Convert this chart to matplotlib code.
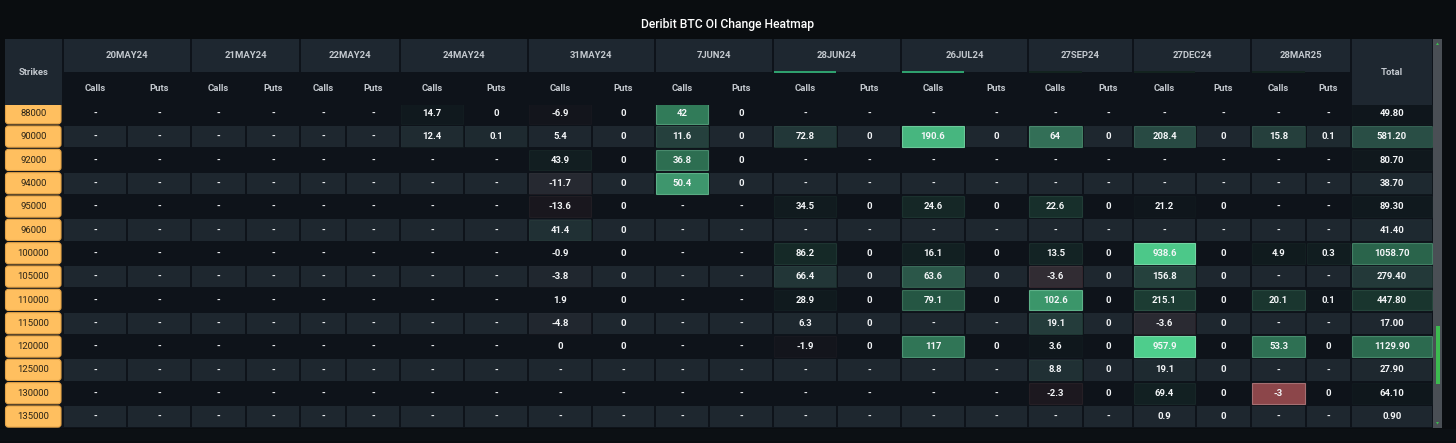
import numpy as np
import matplotlib
matplotlib.use("Agg")
import matplotlib.pyplot as plt
from matplotlib.patches import Rectangle, FancyBboxPatch, Polygon
from matplotlib.colors import Normalize, LinearSegmentedColormap

plt.rcParams['font.family'] = ['Roboto', 'DejaVu Sans']

na = np.nan

strikes = [88000, 90000, 92000, 94000, 95000, 96000, 100000, 105000,
           110000, 115000, 120000, 125000, 130000, 135000]

expiries = ["20MAY24", "21MAY24", "22MAY24", "24MAY24", "31MAY24", "7JUN24",
            "28JUN24", "26JUL24", "27SEP24", "27DEC24", "28MAR25"]

# one list per expiry, one value per strike (nan = "-")
calls = [
    [na, na, na, na, na, na, na, na, na, na, na, na, na, na],
    [na, na, na, na, na, na, na, na, na, na, na, na, na, na],
    [na, na, na, na, na, na, na, na, na, na, na, na, na, na],
    [14.7, 12.4, na, na, na, na, na, na, na, na, na, na, na, na],
    [-6.9, 5.4, 43.9, -11.7, -13.6, 41.4, -0.9, -3.8, 1.9, -4.8, 0, na, na, na],
    [42, 11.6, 36.8, 50.4, na, na, na, na, na, na, na, na, na, na],
    [na, 72.8, na, na, 34.5, na, 86.2, 66.4, 28.9, 6.3, -1.9, na, na, na],
    [na, 190.6, na, na, 24.6, na, 16.1, 63.6, 79.1, na, 117, na, na, na],
    [na, 64, na, na, 22.6, na, 13.5, -3.6, 102.6, 19.1, 3.6, 8.8, -2.3, na],
    [na, 208.4, na, na, 21.2, na, 938.6, 156.8, 215.1, -3.6, 957.9, 19.1, 69.4, 0.9],
    [na, 15.8, na, na, na, na, 4.9, na, 20.1, na, 53.3, na, -3, na],
]
puts = [
    [na, na, na, na, na, na, na, na, na, na, na, na, na, na],
    [na, na, na, na, na, na, na, na, na, na, na, na, na, na],
    [na, na, na, na, na, na, na, na, na, na, na, na, na, na],
    [0, 0.1, na, na, na, na, na, na, na, na, na, na, na, na],
    [0, 0, 0, 0, 0, 0, 0, 0, 0, 0, 0, na, na, na],
    [0, 0, 0, 0, na, na, na, na, na, na, na, na, na, na],
    [na, 0, na, na, 0, na, 0, 0, 0, 0, 0, na, na, na],
    [na, 0, na, na, 0, na, 0, 0, 0, na, 0, na, na, na],
    [na, 0, na, na, 0, na, 0, 0, 0, 0, 0, 0, 0, na],
    [na, 0, na, na, 0, na, 0, 0, 0, 0, 0, 0, 0, 0],
    [na, 0.1, na, na, na, na, 0.3, na, 0.1, na, 0, na, 0, na],
]
totals = [49.80, 581.20, 80.70, 38.70, 89.30, 41.40, 1058.70, 279.40,
          447.80, 17.00, 1129.90, 27.90, 64.10, 0.90]

# colour scale range of each calls column (whole table, incl. rows scrolled away)
calls_vmax = [100, 100, 100, 400, 700, 75, 700, 220, 145, 960, 105]
calls_vmin = [-10, -10, -10, -10, -150, -10, -40, -10, -20, -30, -3]
puts_vmax = 5
totals_vmax = 2400

# layout in pixels
strike_x, strike_w = 5, 58
sub_w = [(64, 64), (55, 54), (46, 54), (64, 64), (64, 63), (54, 64),
         (64, 64), (64, 63), (55, 50), (63, 55), (55, 45)]
total_w = 82
head_top, head_mid, head_bot = 39, 72, 105
row_top, row_h = 101.7, 23.33

page_bg = '#0a0d10'
dark_bg = '#0e131a'
light_bg = '#1e272f'
head_bg = '#1e2730'
head_txt = '#c3c8ce'
val_txt = '#f4f6f8'
green = (78/255, 205/255, 140/255)
red = (140/255, 70/255, 74/255)
green_cmap = LinearSegmentedColormap.from_list('g', [green + (0,), green + (1,)])
red_cmap = LinearSegmentedColormap.from_list('r', [red + (0,), red + (1,)])

fig = plt.figure(figsize=(14.56, 4.43), dpi=100, facecolor=page_bg)
ax = fig.add_axes([0, 0, 1, 1])
ax.set_xlim(0, 1456)
ax.set_ylim(443, 0)
ax.axis('off')

fs = 6.8


def draw_cell(x0, w, row, value, vmin, vmax, label):
    y0 = row_top + row * row_h
    if row % 2:
        ax.add_patch(Rectangle((x0 + 1, y0 + 1), w - 2, row_h - 2, color=light_bg, lw=0, zorder=1))
    if not np.isnan(value) and value != 0:
        if value > 0:
            t = Normalize(0, vmax, clip=True)(value)
            rgba = green_cmap(t)
        else:
            t = Normalize(0, -vmin, clip=True)(-value)
            rgba = red_cmap(t)
        r, g, b, a = rgba
        edge = (r + (1 - r) * 0.22, g + (1 - g) * 0.22, b + (1 - b) * 0.22, a)
        ax.add_patch(Rectangle((x0 + 1.4, y0 + 1.4), w - 2.8, row_h - 2.8, facecolor=rgba,
                               edgecolor=edge, lw=0.8, zorder=2))
    ax.text(x0 + w / 2, y0 + row_h / 2, label, color=val_txt, fontsize=fs,
            fontweight='bold', ha='center', va='center', zorder=3)


def fmt(v):
    return '-' if np.isnan(v) else f"{v:g}"


# data area background
ax.add_patch(Rectangle((strike_x, head_bot), 1433 - strike_x, 428 - head_bot, color=dark_bg, lw=0, zorder=0))
ax.add_patch(Rectangle((0, 429), 1456, 12, color='#0c1014', lw=0, zorder=0))

# strike labels
for i, s in enumerate(strikes):
    y0 = row_top + i * row_h
    ax.add_patch(FancyBboxPatch((strike_x + 0.5, y0 + 1), strike_w - 2.5, row_h - 2.2,
                                boxstyle="round,pad=0,rounding_size=3",
                                facecolor='#ffbf5f', edgecolor='#e4a347', lw=0.8, zorder=2))
    ax.text(strike_x + strike_w / 2 - 0.5, y0 + row_h / 2, str(s), color='#2a2418',
            fontsize=fs, ha='center', va='center', zorder=3)

# header backgrounds (drawn over the partly scrolled first row)
ax.add_patch(Rectangle((strike_x, head_top), 1433 - strike_x, head_bot - head_top, color=dark_bg, lw=0, zorder=5))
ax.add_patch(Rectangle((strike_x, head_top), strike_w - 1, head_bot - head_top, color=head_bg, lw=0, zorder=6))
ax.text(strike_x + strike_w / 2, (head_top + head_bot) / 2, "Strikes", color=head_txt,
        fontsize=fs, fontweight='bold', ha='center', va='center', zorder=7)

x = strike_x + strike_w
for j, exp in enumerate(expiries):
    wc, wp = sub_w[j]
    ax.add_patch(Rectangle((x + 1, head_top), wc + wp - 2, head_mid - head_top,
                           color=head_bg, lw=0, zorder=6))
    ax.text(x + (wc + wp) / 2, (head_top + head_mid) / 2, exp, color=head_txt,
            fontsize=fs, fontweight='bold', ha='center', va='center', zorder=7)
    if exp in ("28JUN24", "26JUL24"):
        ax.add_patch(Rectangle((x + 1, head_mid - 1.5), wc - 2, 2, color='#2fa06e', lw=0, zorder=7))
    elif j >= 8:
        ax.add_patch(Rectangle((x + 1, head_mid - 1.5), wc - 2, 2, color='#13231f', lw=0, zorder=7))
    ax.text(x + wc / 2, (head_mid + head_bot) / 2, "Calls", color=head_txt,
            fontsize=fs, fontweight='bold', ha='center', va='center', zorder=7)
    ax.text(x + wc + wp / 2, (head_mid + head_bot) / 2, "Puts", color=head_txt,
            fontsize=fs, fontweight='bold', ha='center', va='center', zorder=7)
    for i in range(len(strikes)):
        draw_cell(x, wc, i, calls[j][i], calls_vmin[j], calls_vmax[j], fmt(calls[j][i]))
        draw_cell(x + wc, wp, i, puts[j][i], -10, puts_vmax, fmt(puts[j][i]))
    x += wc + wp

ax.add_patch(Rectangle((x + 1, head_top), total_w - 2, head_bot - head_top, color=head_bg, lw=0, zorder=6))
ax.text(x + total_w / 2, (head_top + head_bot) / 2, "Total", color=head_txt,
        fontsize=fs, fontweight='bold', ha='center', va='center', zorder=7)
for i, v in enumerate(totals):
    draw_cell(x, total_w, i, v, -10, totals_vmax, f"{v:.2f}")
    # total column cells are boxed on every row
    if i % 2 == 0 and v / totals_vmax < 0.02:
        ax.add_patch(Rectangle((x + 1, row_top + i * row_h + 1), total_w - 2, row_h - 2,
                               color='#10171b', lw=0, zorder=1.5))

# scrollbar
sx = x + total_w
ax.add_patch(Rectangle((sx, head_top), 9, 428 - head_top, color='#4a4f55', lw=0, zorder=6))
ax.add_patch(Rectangle((sx + 2.5, 326), 4.5, 58, color='#3dba50', lw=0, zorder=7))
ax.add_patch(Polygon([[sx + 3, 45], [sx + 6, 45], [sx + 4.5, 42.5]], color='#3dba50', lw=0, zorder=7))
ax.add_patch(Polygon([[sx + 3, 422], [sx + 6, 422], [sx + 4.5, 424.5]], color='#3dba50', lw=0, zorder=7))

ax.text(728, 24, "Deribit BTC OI Change Heatmap", color='white', fontsize=8.7,
        fontweight='medium', ha='center', va='center')

fig.savefig("out.png", dpi=100, facecolor=page_bg)
